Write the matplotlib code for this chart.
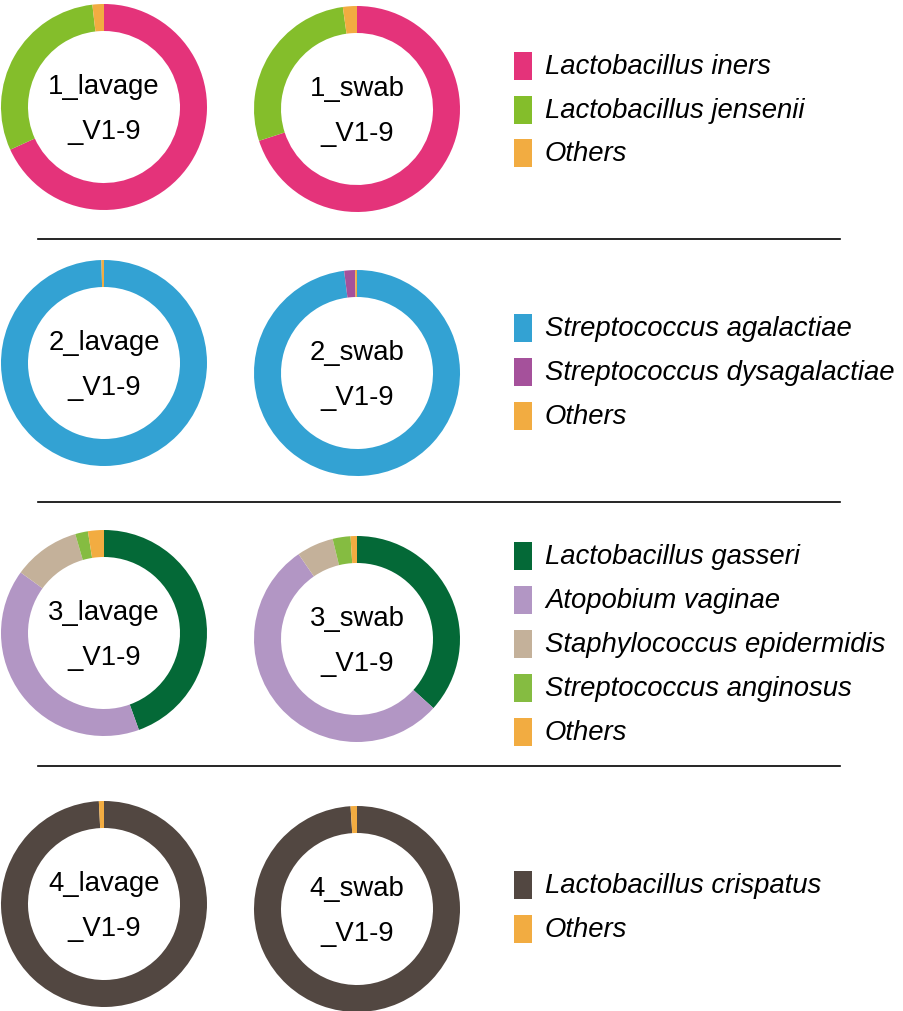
import matplotlib.pyplot as plt
from matplotlib.patches import Rectangle

plt.rcParams['font.family'] = ['Liberation Sans', 'DejaVu Sans']

# groups: taxa names and colours (legend order = slice order)
taxa_1 = ['Lactobacillus iners', 'Lactobacillus jensenii', 'Others']
colors_1 = ['#E4337A', '#84BE2B', '#F2AC41']
lavage_1 = [68.2, 30.0, 1.8]
swab_1 = [70.0, 27.8, 2.2]

taxa_2 = ['Streptococcus agalactiae', 'Streptococcus dysagalactiae', 'Others']
colors_2 = ['#33A2D3', '#A5519B', '#F2AC41']
lavage_2 = [99.6, 0.0, 0.4]
swab_2 = [98.0, 1.7, 0.3]

taxa_3 = ['Lactobacillus gasseri', 'Atopobium vaginae', 'Staphylococcus epidermidis',
          'Streptococcus anginosus', 'Others']
colors_3 = ['#046937', '#B296C4', '#C4B19A', '#85BC41', '#F2AC41']
lavage_3 = [44.5, 40.5, 10.5, 2.0, 2.5]
swab_3 = [36.7, 53.7, 5.8, 2.8, 1.0]

taxa_4 = ['Lactobacillus crispatus', 'Others']
colors_4 = ['#524741', '#F2AC41']
lavage_4 = [99.2, 0.8]
swab_4 = [99.0, 1.0]

samples = ['1', '2', '3', '4']
groups = [
    (taxa_1, colors_1, lavage_1, swab_1),
    (taxa_2, colors_2, lavage_2, swab_2),
    (taxa_3, colors_3, lavage_3, swab_3),
    (taxa_4, colors_4, lavage_4, swab_4),
]

W, H = 904, 1012
fig = plt.figure(figsize=(W / 100, H / 100), dpi=100)
ax = fig.add_axes([0, 0, 1, 1])

# layout in pixel units
lavage_cy = [108, 364, 634, 905]
swab_cy = [110, 374, 640, 910]
legend_y = [[67, 111, 154], [329, 373, 417], [557, 601, 645, 689, 733], [886, 930]]
sep_y = [240, 503, 767]
r_out = 103
ring = 27

for i, (taxa, cols, lav, swb) in enumerate(groups):
    for cx, cy, vals, kind in [(104, lavage_cy[i], lav, 'lavage'),
                               (357, swab_cy[i], swb, 'swab')]:
        ax.pie(vals, colors=cols, startangle=90, counterclock=False,
               center=(cx, -cy), radius=r_out,
               wedgeprops=dict(width=ring, linewidth=0))
        ax.text(cx, -cy + 21, samples[i] + '_' + kind, ha='center', va='center',
                fontsize=19.8)
        ax.text(cx, -cy - 24, '_V1-9', ha='center', va='center', fontsize=19.8)
    for name, c, ly in zip(taxa, cols, legend_y[i]):
        ax.add_patch(Rectangle((514, -ly - 14), 18, 28, color=c, lw=0))
        ax.text(545, -ly, name, ha='left', va='center', fontsize=19.8,
                style='italic')

for y in sep_y:
    ax.plot([38, 840], [-y, -y], color='black', lw=1.2)

ax.set_xlim(0, W)
ax.set_ylim(-H, 0)
ax.set_aspect('auto')
ax.axis('off')

fig.savefig('out.png', dpi=100)
